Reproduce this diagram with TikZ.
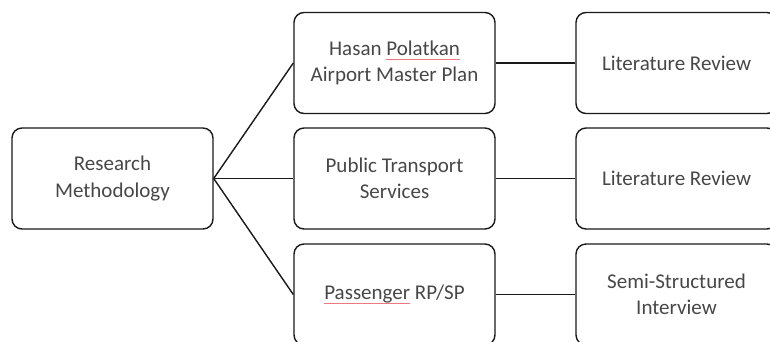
\documentclass[tikz,border=0pt]{standalone}
\usepackage{fontspec}
\setmainfont{Carlito}
\definecolor{spellred}{RGB}{235,120,130}
\newcommand\spellul[1]{\setbox0\hbox{#1}\rlap{\color{spellred}\rule[-4pt]{\wd0}{0.8pt}}#1}
\tikzset{
  box/.style={draw=black!90, line width=1.4pt, rounded corners=10pt, rectangle,
    minimum width=201pt, minimum height=101pt, align=center,
    text=black!72, font=\fontsize{21}{26.5}\selectfont, inner sep=0pt},
  link/.style={draw=black!90, line width=1.4pt}
}
\begin{document}
\begin{tikzpicture}[x=1pt,y=-1pt]
\useasboundingbox (0,0) rectangle (770,341);
\clip (0,0) rectangle (770,341);
\node[box] (rm) at (112.5,178.5) {Research\\Methodology};
\node[box] (m1) at (394.5,63) {Hasan \spellul{Polatkan}\\Airport Master Plan};
\node[box] (m2) at (394.5,178.5) {Public Transport\\Services};
\node[box] (m3) at (394.5,294.5) {\spellul{Passenger} RP/SP};
\node[box] (r1) at (676.5,63) {Literature Review};
\node[box] (r2) at (676.5,178.5) {Literature Review};
\node[box] (r3) at (676.5,294.5) {Semi-Structured\\Interview};
\draw[link] (rm.east) -- (m1.west);
\draw[link] (rm.east) -- (m2.west);
\draw[link] (rm.east) -- (m3.west);
\draw[link] (m1.east) -- (r1.west);
\draw[link] (m2.east) -- (r2.west);
\draw[link] (m3.east) -- (r3.west);
\end{tikzpicture}
\end{document}
